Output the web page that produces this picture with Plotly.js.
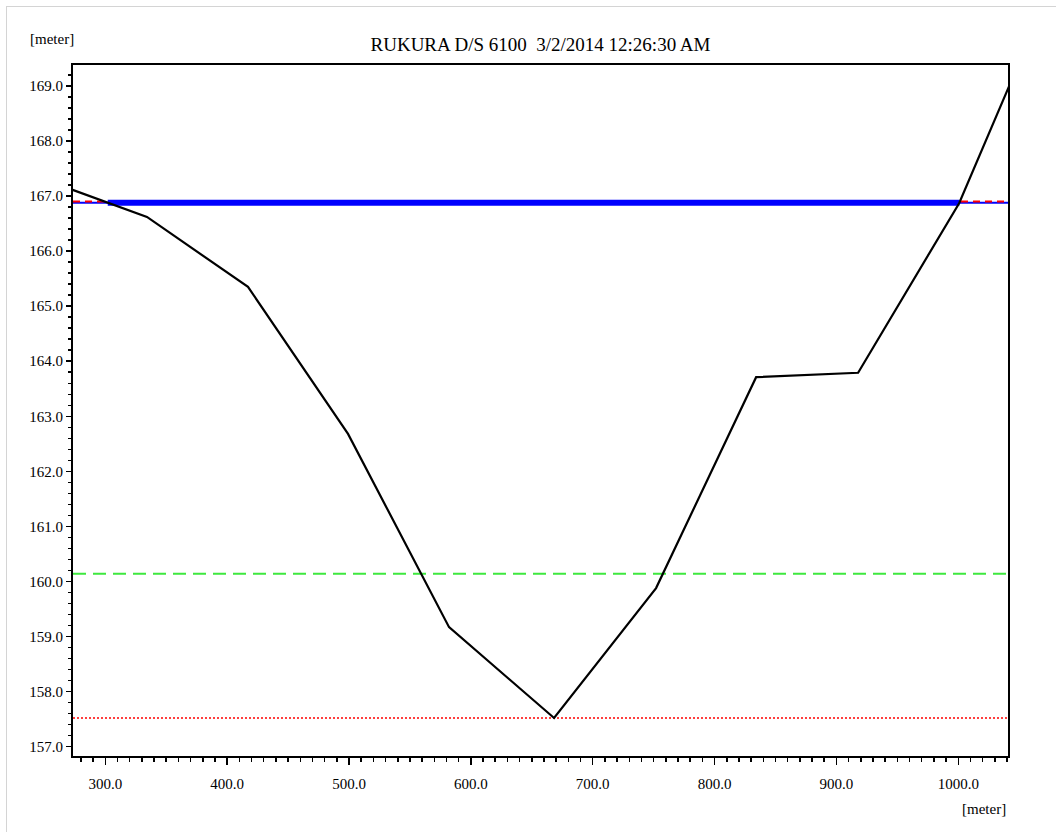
<!DOCTYPE html>
<html>
<head>
<meta charset="utf-8">
<script src="https://cdn.plot.ly/plotly-3.0.1.min.js"></script>
<style>
  html, body { margin: 0; padding: 0; background: #ffffff; }
  #wrap { position: relative; width: 1056px; height: 832px; }
  #chart { width: 1056px; height: 832px; }
  #border { position: absolute; left: 6px; top: 6px; right: 0; bottom: 0;
            border-left: 1px solid #d4d4d4; border-top: 1px solid #d4d4d4; pointer-events: none; }
</style>
</head>
<body>
<div id="wrap">
  <div id="chart"></div>
  <div id="border"></div>
</div>
<script>
// ---- data ----
const chartTitle = "RUKURA D/S 6100&nbsp;&nbsp;3/2/2014 12:26:30 AM";
const unitLabel = "[meter]";

const terrainX = [250.0, 334.2, 417.1, 499.2, 582.1, 668.3, 752.0, 834.1, 917.8, 1000.7, 1084.0];
const terrainY = [167.30, 166.62, 165.35, 162.68, 159.17, 157.52, 159.88, 163.71, 163.79, 166.87, 171.19];

const waterLevel = 166.88;     // blue water surface
const maxLevel = 166.90;       // red dashed
const greenLevel = 160.14;     // green dashed
const bedLevel = 157.52;       // red dotted

const xRange = [273.5, 1040.8];
const yRange = [156.83, 169.38];

// ---- water surface extent: crossings of terrain with water level ----
function crossings(xs, ys, level) {
  const out = [];
  for (let i = 0; i < xs.length - 1; i++) {
    const a = ys[i] - level, b = ys[i + 1] - level;
    if ((a >= 0 && b < 0) || (a < 0 && b >= 0)) {
      const t = a / (a - b);
      out.push(xs[i] + t * (xs[i + 1] - xs[i]));
    }
  }
  return out;
}
const wx = crossings(terrainX, terrainY, waterLevel);
const wetX = [wx[0], wx[wx.length - 1]];

const font = "Liberation Serif";
const tickFont = { family: font, size: 15, color: "#000000" };

const traces = [
  { x: xRange, y: [waterLevel, waterLevel], mode: "lines",
    line: { color: "#0000ff", width: 2 } },
  { x: xRange, y: [maxLevel, maxLevel], mode: "lines",
    line: { color: "#ff0000", width: 2, dash: "7px,5px" } },
  { x: wetX, y: [waterLevel, waterLevel], mode: "lines",
    line: { color: "#0000ff", width: 6 } },
  { x: xRange, y: [greenLevel, greenLevel], mode: "lines",
    line: { color: "#3ee83e", width: 2, dash: "13px,7px" } },
  { x: xRange, y: [bedLevel, bedLevel], mode: "lines",
    line: { color: "#ff0000", width: 1.5, dash: "2px,2px" } },
  { x: terrainX, y: terrainY, mode: "lines",
    line: { color: "#000000", width: 2.2 } }
];

const layout = {
  width: 1056, height: 832,
  margin: { l: 73, r: 48, t: 65, b: 76 },
  paper_bgcolor: "#ffffff", plot_bgcolor: "#ffffff",
  showlegend: false,
  font: { family: font, color: "#000000", size: 15 },
  title: { text: chartTitle, x: 0.5, xref: "paper", xanchor: "center",
           y: 1 - 44 / 832, yref: "container", yanchor: "middle",
           font: { family: font, size: 19, color: "#000000" } },
  xaxis: {
    range: xRange, showgrid: false, zeroline: false,
    showline: true, linecolor: "#000000", linewidth: 2, mirror: true,
    ticks: "outside", ticklen: 7, tickwidth: 1.5, tickcolor: "#000000",
    tick0: 0, dtick: 100, tickformat: ".1f",
    ticklabelstandoff: 6,
    minor: { dtick: 10, ticklen: 4, tickwidth: 1.5, tickcolor: "#000000", ticks: "outside", showgrid: false },
    tickfont: tickFont
  },
  yaxis: {
    range: yRange, showgrid: false, zeroline: false,
    showline: true, linecolor: "#000000", linewidth: 2, mirror: true,
    ticks: "outside", ticklen: 5, tickwidth: 1.5, tickcolor: "#000000",
    tick0: 0, dtick: 1, tickformat: ".1f",
    minor: { dtick: 0.2, ticklen: 3, tickwidth: 1.5, tickcolor: "#000000", ticks: "outside", showgrid: false },
    tickfont: tickFont
  },
  annotations: [
    { text: unitLabel, xref: "paper", yref: "paper",
      x: (52 - 73) / 935, y: (756 - 39) / 691, xanchor: "center", yanchor: "middle",
      showarrow: false, font: tickFont },
    { text: unitLabel, xref: "paper", yref: "paper",
      x: 1.0, y: (756 - 809) / 691, xanchor: "right", yanchor: "middle",
      showarrow: false, font: tickFont }
  ]
};

Plotly.newPlot("chart", traces, layout, { staticPlot: true, displayModeBar: false });
</script>
</body>
</html>
